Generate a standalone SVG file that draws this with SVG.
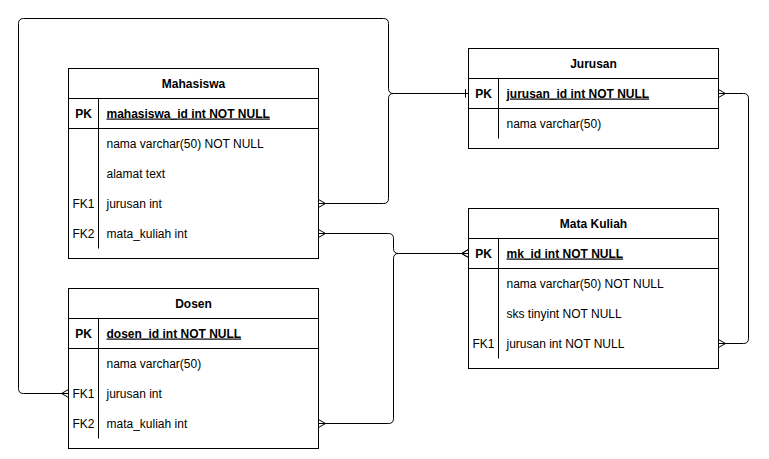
<svg xmlns="http://www.w3.org/2000/svg" width="769" height="459" viewBox="0 0 769 459">
<style>
.box{fill:#fff;stroke:#000;stroke-width:1}
.ln{fill:none;stroke:#000;stroke-width:1}
text{font-family:"Liberation Sans",Arial,sans-serif;font-size:12px;fill:#000}
.t{font-weight:bold;text-anchor:middle}
.k{text-anchor:middle}
.pk{font-weight:bold}
.pkc{font-weight:bold;text-decoration:underline}
</style>
<defs>
<marker id="many" markerUnits="userSpaceOnUse" orient="auto-start-reverse" refX="0" refY="0" markerWidth="10" markerHeight="10" overflow="visible">
<path d="M0,-4 L-7,0 L0,4" fill="none" stroke="#000" stroke-width="1"/>
</marker>
<marker id="one" markerUnits="userSpaceOnUse" orient="auto" refX="0" refY="0" markerWidth="10" markerHeight="10" overflow="visible">
<path d="M-3,-4 L-3,4" fill="none" stroke="#000" stroke-width="1"/>
</marker>
</defs>
<rect width="769" height="459" fill="#fff"/>
<g transform="translate(0.5,0.5)">
<g id="connectors">
<path class="ln" d="M318,203 L383,203 Q388,203 388,198 L388,98 Q388,93 393,93 L468,93" marker-start="url(#many)" marker-end="url(#one)"/>
<path class="ln" d="M68,393 L23,393 Q18,393 18,388 L18,23 Q18,18 23,18 L383,18 Q388,18 388,23 L388,88 Q388,93 393,93 L468,93" marker-start="url(#many)" marker-end="url(#one)"/>
<path class="ln" d="M318,233 L388,233 Q393,233 393,238 L393,248 Q393,253 398,253 L468,253" marker-start="url(#many)" marker-end="url(#many)"/>
<path class="ln" d="M318,423 L388,423 Q393,423 393,418 L393,258 Q393,253 398,253 L468,253" marker-start="url(#many)" marker-end="url(#many)"/>
<path class="ln" d="M718,93 L743,93 Q748,93 748,98 L748,338 Q748,343 743,343 L718,343" marker-start="url(#many)" marker-end="url(#many)"/>
</g>
<g id="mahasiswa">
<rect class="box" x="68" y="68" width="250" height="190"/>
<path class="ln" d="M68,98 H318 M68,128 H318 M98,98 V128 M98,128 V248"/>
<text class="t" x="193" y="87">Mahasiswa</text>
<text class="k pk" x="83" y="117">PK</text>
<text class="pkc" x="106" y="117">mahasiswa_id int NOT NULL</text>
<text x="106" y="147">nama varchar(50) NOT NULL</text>
<text x="106" y="177">alamat text</text>
<text class="k" x="83" y="207">FK1</text>
<text x="106" y="207">jurusan int</text>
<text class="k" x="83" y="237">FK2</text>
<text x="106" y="237">mata_kuliah int</text>
</g>
<g id="dosen">
<rect class="box" x="68" y="288" width="250" height="160"/>
<path class="ln" d="M68,318 H318 M68,348 H318 M98,318 V348 M98,348 V438"/>
<text class="t" x="193" y="307">Dosen</text>
<text class="k pk" x="83" y="337">PK</text>
<text class="pkc" x="106" y="337">dosen_id int NOT NULL</text>
<text x="106" y="367">nama varchar(50)</text>
<text class="k" x="83" y="397">FK1</text>
<text x="106" y="397">jurusan int</text>
<text class="k" x="83" y="427">FK2</text>
<text x="106" y="427">mata_kuliah int</text>
</g>
<g id="jurusan">
<rect class="box" x="468" y="48" width="250" height="100"/>
<path class="ln" d="M468,78 H718 M468,108 H718 M498,78 V108 M498,108 V138"/>
<text class="t" x="593" y="67">Jurusan</text>
<text class="k pk" x="483" y="97">PK</text>
<text class="pkc" x="506" y="97">jurusan_id int NOT NULL</text>
<text x="506" y="127">nama varchar(50)</text>
</g>
<g id="mata-kuliah">
<rect class="box" x="468" y="208" width="250" height="160"/>
<path class="ln" d="M468,238 H718 M468,268 H718 M498,238 V268 M498,268 V358"/>
<text class="t" x="593" y="227">Mata Kuliah</text>
<text class="k pk" x="483" y="257">PK</text>
<text class="pkc" x="506" y="257">mk_id int NOT NULL</text>
<text x="506" y="287">nama varchar(50) NOT NULL</text>
<text x="506" y="317">sks tinyint NOT NULL</text>
<text class="k" x="483" y="347">FK1</text>
<text x="506" y="347">jurusan int NOT NULL</text>
</g>
</g>
</svg>
